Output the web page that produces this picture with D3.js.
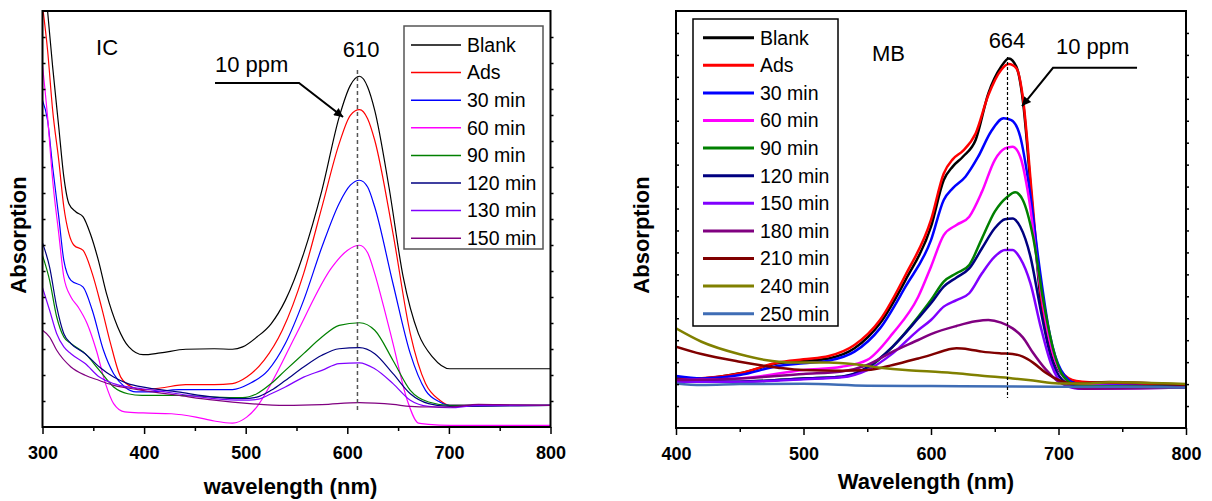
<!DOCTYPE html>
<html><head><meta charset="utf-8">
<script src="https://cdn.jsdelivr.net/npm/d3@7"></script>
<style>
body{margin:0;background:#fff}
svg{display:block}
text{font-family:"Liberation Sans",Arial,Helvetica,sans-serif;fill:#000}
</style>
</head><body>
<svg id="chart" width="1212" height="501"></svg>
<script>
// ---------- IC panel (left) ----------
const icXTicks = [300, 400, 500, 600, 700, 800];
const icLabels = ["Blank", "Ads", "30 min", "60 min", "90 min", "120 min", "130 min", "150 min"];
const icColors = ["#000000", "#ff0000", "#0000ff", "#ff00ff", "#008000", "#000080", "#8000ff", "#800080"];
const icBlank = [[300,1.81],[305,1.60],[310,1.385],[316,1.154],[321,0.962],[326,0.859],[333,0.827],[340,0.808],[347,0.744],[355,0.641],[363,0.513],[374,0.385],[385,0.308],[399,0.278],[416,0.285],[441,0.299],[469,0.301],[487,0.299],[497,0.308],[511,0.346],[525,0.397],[539,0.487],[557,0.667],[575,0.910],[592,1.192],[603,1.314],[612,1.349],[620,1.308],[627,1.218],[641,0.923],[655,0.577],[670,0.359],[684,0.269],[701,0.224],[800,0.224]];
const icAds = [[300,1.62],[305,1.449],[310,1.218],[316,1.026],[321,0.846],[326,0.744],[331,0.699],[340,0.679],[349,0.590],[358,0.462],[367,0.321],[377,0.192],[388,0.154],[399,0.144],[416,0.150],[441,0.163],[469,0.163],[487,0.167],[501,0.192],[518,0.256],[536,0.372],[557,0.590],[575,0.846],[592,1.090],[603,1.199],[612,1.221],[620,1.186],[627,1.103],[645,0.744],[662,0.359],[677,0.167],[691,0.103],[701,0.083],[800,0.083]];
const ic30 = [[300,1.256],[305,1.179],[310,1.0],[316,0.808],[321,0.641],[328,0.564],[340,0.538],[349,0.449],[360,0.295],[370,0.205],[381,0.154],[392,0.135],[406,0.135],[434,0.144],[462,0.144],[487,0.144],[504,0.167],[522,0.218],[539,0.321],[557,0.487],[575,0.692],[592,0.86],[603,0.93],[612,0.949],[620,0.923],[627,0.846],[645,0.551],[662,0.282],[677,0.141],[691,0.096],[701,0.083],[800,0.083]];
const ic60 = [[300,1.391],[305,1.192],[310,0.949],[316,0.744],[321,0.577],[328,0.500],[335,0.462],[344,0.397],[353,0.295],[362,0.167],[370,0.090],[381,0.058],[399,0.054],[427,0.051],[451,0.038],[469,0.023],[487,0.015],[501,0.038],[511,0.077],[525,0.167],[550,0.359],[585,0.615],[600,0.679],[612,0.699],[620,0.67],[627,0.59],[636,0.46],[645,0.321],[659,0.103],[670,0.015],[680,0.010],[701,0.006],[800,0.006]];
const ic90 = [[300,0.660],[307,0.564],[314,0.423],[321,0.346],[328,0.321],[342,0.282],[356,0.218],[370,0.154],[384,0.128],[398,0.122],[433,0.122],[469,0.115],[497,0.113],[511,0.128],[525,0.167],[539,0.218],[557,0.282],[575,0.346],[592,0.391],[612,0.401],[627,0.372],[645,0.256],[662,0.141],[680,0.096],[701,0.083],[800,0.083]];
const ic120 = [[300,0.708],[307,0.615],[314,0.462],[321,0.359],[328,0.321],[342,0.282],[356,0.231],[370,0.192],[384,0.167],[398,0.154],[433,0.135],[469,0.115],[497,0.109],[511,0.115],[525,0.141],[539,0.179],[557,0.231],[575,0.276],[592,0.301],[612,0.305],[627,0.282],[645,0.205],[662,0.128],[680,0.090],[701,0.079],[800,0.083]];
const ic130 = [[300,0.536],[307,0.449],[314,0.359],[321,0.308],[328,0.282],[342,0.244],[356,0.192],[370,0.167],[384,0.154],[398,0.147],[433,0.128],[469,0.109],[497,0.103],[511,0.106],[525,0.128],[539,0.154],[557,0.192],[575,0.218],[592,0.244],[612,0.247],[627,0.224],[645,0.167],[662,0.103],[680,0.079],[701,0.074],[729,0.083],[800,0.083]];
const ic150 = [[300,0.372],[307,0.346],[314,0.295],[328,0.231],[342,0.199],[356,0.179],[370,0.160],[384,0.150],[398,0.141],[433,0.122],[469,0.103],[504,0.090],[539,0.083],[575,0.086],[612,0.094],[627,0.092],[645,0.087],[662,0.079],[680,0.077],[701,0.077],[729,0.087],[750,0.086],[800,0.083]];

// ---------- MB panel (right) ----------
const mbXTicks = [400, 500, 600, 700, 800];
const mbLabels = ["Blank", "Ads", "30 min", "60 min", "90 min", "120 min", "150 min", "180 min", "210 min", "240 min", "250 min"];
const mbColors = ["#000000", "#ff0000", "#0000ff", "#ff00ff", "#008000", "#000080", "#8000ff", "#800080", "#800000", "#808000", "#3f6db5"];
const mbBlank = [[400,0.226],[420,0.226],[450,0.249],[480,0.295],[500,0.305],[520,0.317],[540,0.363],[560,0.477],[580,0.674],[600,0.917],[610,1.130],[617,1.191],[625,1.236],[635,1.312],[645,1.525],[655,1.646],[661,1.684],[667,1.646],[672,1.494],[679,1.039],[686,0.583],[694,0.355],[702,0.249],[714,0.211],[740,0.203],[800,0.196]];
const mbAds = [[400,0.219],[450,0.249],[480,0.298],[500,0.313],[520,0.328],[540,0.378],[560,0.492],[580,0.697],[600,0.948],[610,1.160],[617,1.224],[625,1.263],[635,1.342],[645,1.517],[655,1.631],[661,1.658],[667,1.639],[672,1.509],[679,1.069],[686,0.614],[694,0.371],[702,0.257],[714,0.214],[740,0.203],[800,0.196]];
const mb30 = [[400,0.237],[420,0.226],[450,0.241],[480,0.282],[500,0.295],[520,0.307],[540,0.348],[560,0.454],[580,0.644],[600,0.856],[610,1.039],[617,1.092],[627,1.145],[637,1.236],[647,1.350],[657,1.411],[663,1.403],[670,1.327],[677,1.099],[685,0.735],[693,0.431],[702,0.264],[714,0.203],[800,0.188]];
const mb60 = [[400,0.219],[450,0.226],[500,0.264],[530,0.279],[550,0.310],[570,0.431],[590,0.598],[600,0.735],[610,0.879],[620,0.925],[630,0.963],[640,1.077],[650,1.221],[658,1.274],[664,1.282],[670,1.236],[677,1.039],[685,0.674],[693,0.401],[702,0.249],[714,0.196],[800,0.188]];
const mb90 = [[400,0.211],[450,0.211],[500,0.226],[530,0.234],[550,0.272],[570,0.371],[590,0.507],[600,0.583],[610,0.667],[620,0.705],[630,0.743],[640,0.864],[650,0.986],[660,1.054],[666,1.074],[672,1.039],[680,0.872],[688,0.583],[696,0.355],[704,0.234],[716,0.191],[800,0.188]];
const mb120 = [[400,0.219],[450,0.211],[500,0.226],[530,0.234],[550,0.276],[570,0.371],[590,0.500],[600,0.568],[610,0.644],[620,0.686],[630,0.727],[640,0.819],[650,0.910],[658,0.951],[664,0.955],[670,0.917],[678,0.781],[686,0.538],[694,0.325],[703,0.219],[716,0.185],[800,0.188]];
const mb150 = [[400,0.211],[450,0.211],[500,0.222],[530,0.231],[550,0.264],[570,0.340],[590,0.446],[600,0.492],[610,0.553],[620,0.583],[630,0.614],[640,0.705],[650,0.781],[658,0.811],[664,0.811],[670,0.773],[678,0.659],[686,0.462],[694,0.295],[703,0.203],[716,0.179],[800,0.184]];
const mb180 = [[400,0.219],[450,0.226],[500,0.246],[530,0.257],[550,0.287],[570,0.348],[590,0.401],[600,0.428],[620,0.465],[635,0.486],[645,0.492],[655,0.480],[664,0.454],[672,0.413],[680,0.343],[690,0.267],[700,0.211],[710,0.188],[720,0.179],[800,0.184]];
const mb210 = [[400,0.371],[420,0.337],[450,0.302],[480,0.275],[500,0.264],[530,0.261],[550,0.264],[570,0.287],[590,0.317],[600,0.333],[610,0.352],[620,0.363],[630,0.358],[640,0.348],[655,0.340],[664,0.337],[672,0.325],[680,0.298],[690,0.252],[700,0.219],[710,0.203],[740,0.210],[800,0.196]];
const mb240 = [[400,0.454],[420,0.393],[450,0.336],[470,0.310],[490,0.299],[520,0.298],[540,0.290],[560,0.275],[580,0.264],[600,0.257],[620,0.249],[640,0.238],[664,0.226],[680,0.216],[700,0.203],[720,0.203],[740,0.208],[800,0.200]];
const mb250 = [[400,0.203],[420,0.196],[450,0.200],[500,0.202],[550,0.193],[600,0.191],[700,0.188],[750,0.188],[800,0.184]];

const svg = d3.select("#chart");
const defs = svg.append("defs");
defs.append("marker").attr("id", "arrow").attr("viewBox", "0 0 10 10")
  .attr("refX", 10).attr("refY", 5).attr("markerWidth", 12).attr("markerHeight", 9)
  .attr("markerUnits", "userSpaceOnUse").attr("orient", "auto")
  .append("path").attr("d", "M0,0L10,5L0,10Z").attr("fill", "#000");

function panel(cfg) {
  const x = d3.scaleLinear().domain(cfg.xDomain).range(cfg.xRange);
  const y = d3.scaleLinear().domain(cfg.yDomain).range(cfg.yRange);
  const g = svg.append("g");
  const clipId = "clip" + cfg.id;
  defs.append("clipPath").attr("id", clipId).append("rect")
    .attr("x", cfg.xRange[0]).attr("y", cfg.yRange[1])
    .attr("width", cfg.xRange[1] - cfg.xRange[0]).attr("height", cfg.yRange[0] - cfg.yRange[1]);

  const line = d3.line().x(d => x(d[0])).y(d => y(d[1])).curve(d3.curveMonotoneX);
  const lines = g.append("g").attr("clip-path", `url(#${clipId})`);
  cfg.series.forEach((s, i) => {
    lines.append("path").datum(s).attr("d", line).attr("fill", "none")
      .attr("stroke", cfg.colors[i]).attr("stroke-width", cfg.lw).attr("stroke-linejoin", "round");
  });

  // dashed peak marker
  g.append("line").attr("x1", x(cfg.peak.nm)).attr("x2", x(cfg.peak.nm))
    .attr("y1", y(cfg.peak.y0)).attr("y2", y(cfg.peak.y1))
    .attr("stroke", cfg.peak.color).attr("stroke-width", cfg.peak.w).attr("stroke-dasharray", cfg.peak.dash);

  // axes
  const major = g.append("g").attr("transform", `translate(0,${cfg.yRange[0]})`)
    .call(d3.axisBottom(x).tickValues(cfg.xTicks).tickSize(7).tickPadding(12).tickFormat(d3.format("d")));
  major.selectAll("text").attr("font-size", 18).attr("font-weight", "bold")
    .attr("font-family", '"Liberation Sans",Arial,sans-serif').attr("fill", "#000");
  const minorVals = cfg.xTicks.slice(0, -1).map(v => v + 50);
  g.append("g").attr("transform", `translate(0,${cfg.yRange[0]})`)
    .call(d3.axisBottom(x).tickValues(minorVals).tickSize(4).tickFormat(""));
  const yt = d3.range(1, Math.round(cfg.yDomain[1] * 10)).map(v => v / 10);
  g.append("g").attr("transform", `translate(${cfg.xRange[0]},0)`)
    .call(d3.axisLeft(y).tickValues(yt).tickSize(-3).tickFormat(""));
  g.append("g").attr("transform", `translate(${cfg.xRange[1]},0)`)
    .call(d3.axisRight(y).tickValues(yt).tickSize(3).tickFormat(""));
  g.selectAll(".domain").remove();
  g.selectAll(".tick line").attr("stroke", "#000").attr("stroke-width", 1.5);

  g.append("rect").attr("x", cfg.xRange[0]).attr("y", cfg.yRange[1])
    .attr("width", cfg.xRange[1] - cfg.xRange[0]).attr("height", cfg.yRange[0] - cfg.yRange[1])
    .attr("fill", "none").attr("stroke", "#000").attr("stroke-width", 2);

  // titles
  g.append("text").attr("x", (cfg.xRange[0] + cfg.xRange[1]) / 2 + cfg.xtDx).attr("y", cfg.xtY)
    .attr("text-anchor", "middle").attr("font-size", 22).attr("font-weight", "bold").text(cfg.xTitle);
  g.append("text").attr("transform", `translate(${cfg.ytX},${cfg.ytY}) rotate(-90)`)
    .attr("text-anchor", "middle").attr("font-size", 22).attr("font-weight", "bold").text("Absorption");

  // annotations
  cfg.texts.forEach(t => {
    g.append("text").attr("x", x(t.nm)).attr("y", y(t.v)).attr("font-size", 22)
      .attr("text-anchor", t.anchor || "start").text(t.s);
  });
  g.append("path").attr("d", d3.line()(cfg.arrow.map(p => [x(p[0]), y(p[1])])))
    .attr("fill", "none").attr("stroke", "#000").attr("stroke-width", 2).attr("marker-end", "url(#arrow)");

  // legend
  const L = cfg.legend;
  g.append("rect").attr("x", L.x).attr("y", L.y).attr("width", L.w).attr("height", L.h)
    .attr("fill", "#fff").attr("stroke", L.stroke).attr("stroke-width", 1.5);
  cfg.labels.forEach((lab, i) => {
    const cy = L.row0 + i * L.step;
    g.append("line").attr("x1", L.l0).attr("x2", L.l1).attr("y1", cy).attr("y2", cy)
      .attr("stroke", cfg.colors[i]).attr("stroke-width", L.lw);
    g.append("text").attr("x", L.tx).attr("y", cy).attr("dy", "0.35em")
      .attr("font-size", 19.5).text(lab);
  });
}

panel({
  id: "ic", xDomain: [300, 800], xRange: [42.5, 550.5], yDomain: [0, 1.6], yRange: [427, 11],
  xTicks: icXTicks, series: [icBlank, icAds, ic30, ic60, ic90, ic120, ic130, ic150],
  colors: icColors, labels: icLabels, lw: 1.2,
  peak: {nm: 610, y0: 1.373, y1: 0.065, color: "#555", w: 1.5, dash: "4,3"},
  xTitle: "wavelength (nm)", xtDx: -6, xtY: 494, ytX: 26, ytY: 235,
  texts: [{s: "IC", nm: 352.7, v: 1.431}, {s: "610", nm: 613.5, v: 1.423, anchor: "middle"},
          {s: "10 ppm", nm: 469.8, v: 1.365}],
  arrow: [[469.8, 1.323], [552.5, 1.323], [595.8, 1.192]],
  legend: {x: 404, y: 26, w: 139, h: 223, stroke: "#555", row0: 45, step: 27.6, l0: 411, l1: 461, tx: 467, lw: 1.5}
});

panel({
  id: "mb", xDomain: [400, 800], xRange: [676, 1186], yDomain: [0, 1.9], yRange: [428, 11],
  xTicks: mbXTicks, series: [mbBlank, mbAds, mb30, mb60, mb90, mb120, mb150, mb180, mb210, mb240, mb250],
  colors: mbColors, labels: mbLabels, lw: 2.5,
  peak: {nm: 660, y0: 1.690, y1: 0.137, color: "#000", w: 1.2, dash: "3,2"},
  xTitle: "Wavelength (nm)", xtDx: -5, xtY: 489, ytX: 649, ytY: 235,
  texts: [{s: "MB", nm: 553.7, v: 1.672}, {s: "664", nm: 659.6, v: 1.731, anchor: "middle"},
          {s: "10 ppm", nm: 698, v: 1.704}],
  arrow: [[761.6, 1.641], [695.7, 1.641], [671.4, 1.467]],
  legend: {x: 693, y: 19, w: 145, h: 307, stroke: "#000", row0: 37.7, step: 27.6, l0: 703, l1: 754, tx: 760, lw: 3}
});
</script>
</body></html>
